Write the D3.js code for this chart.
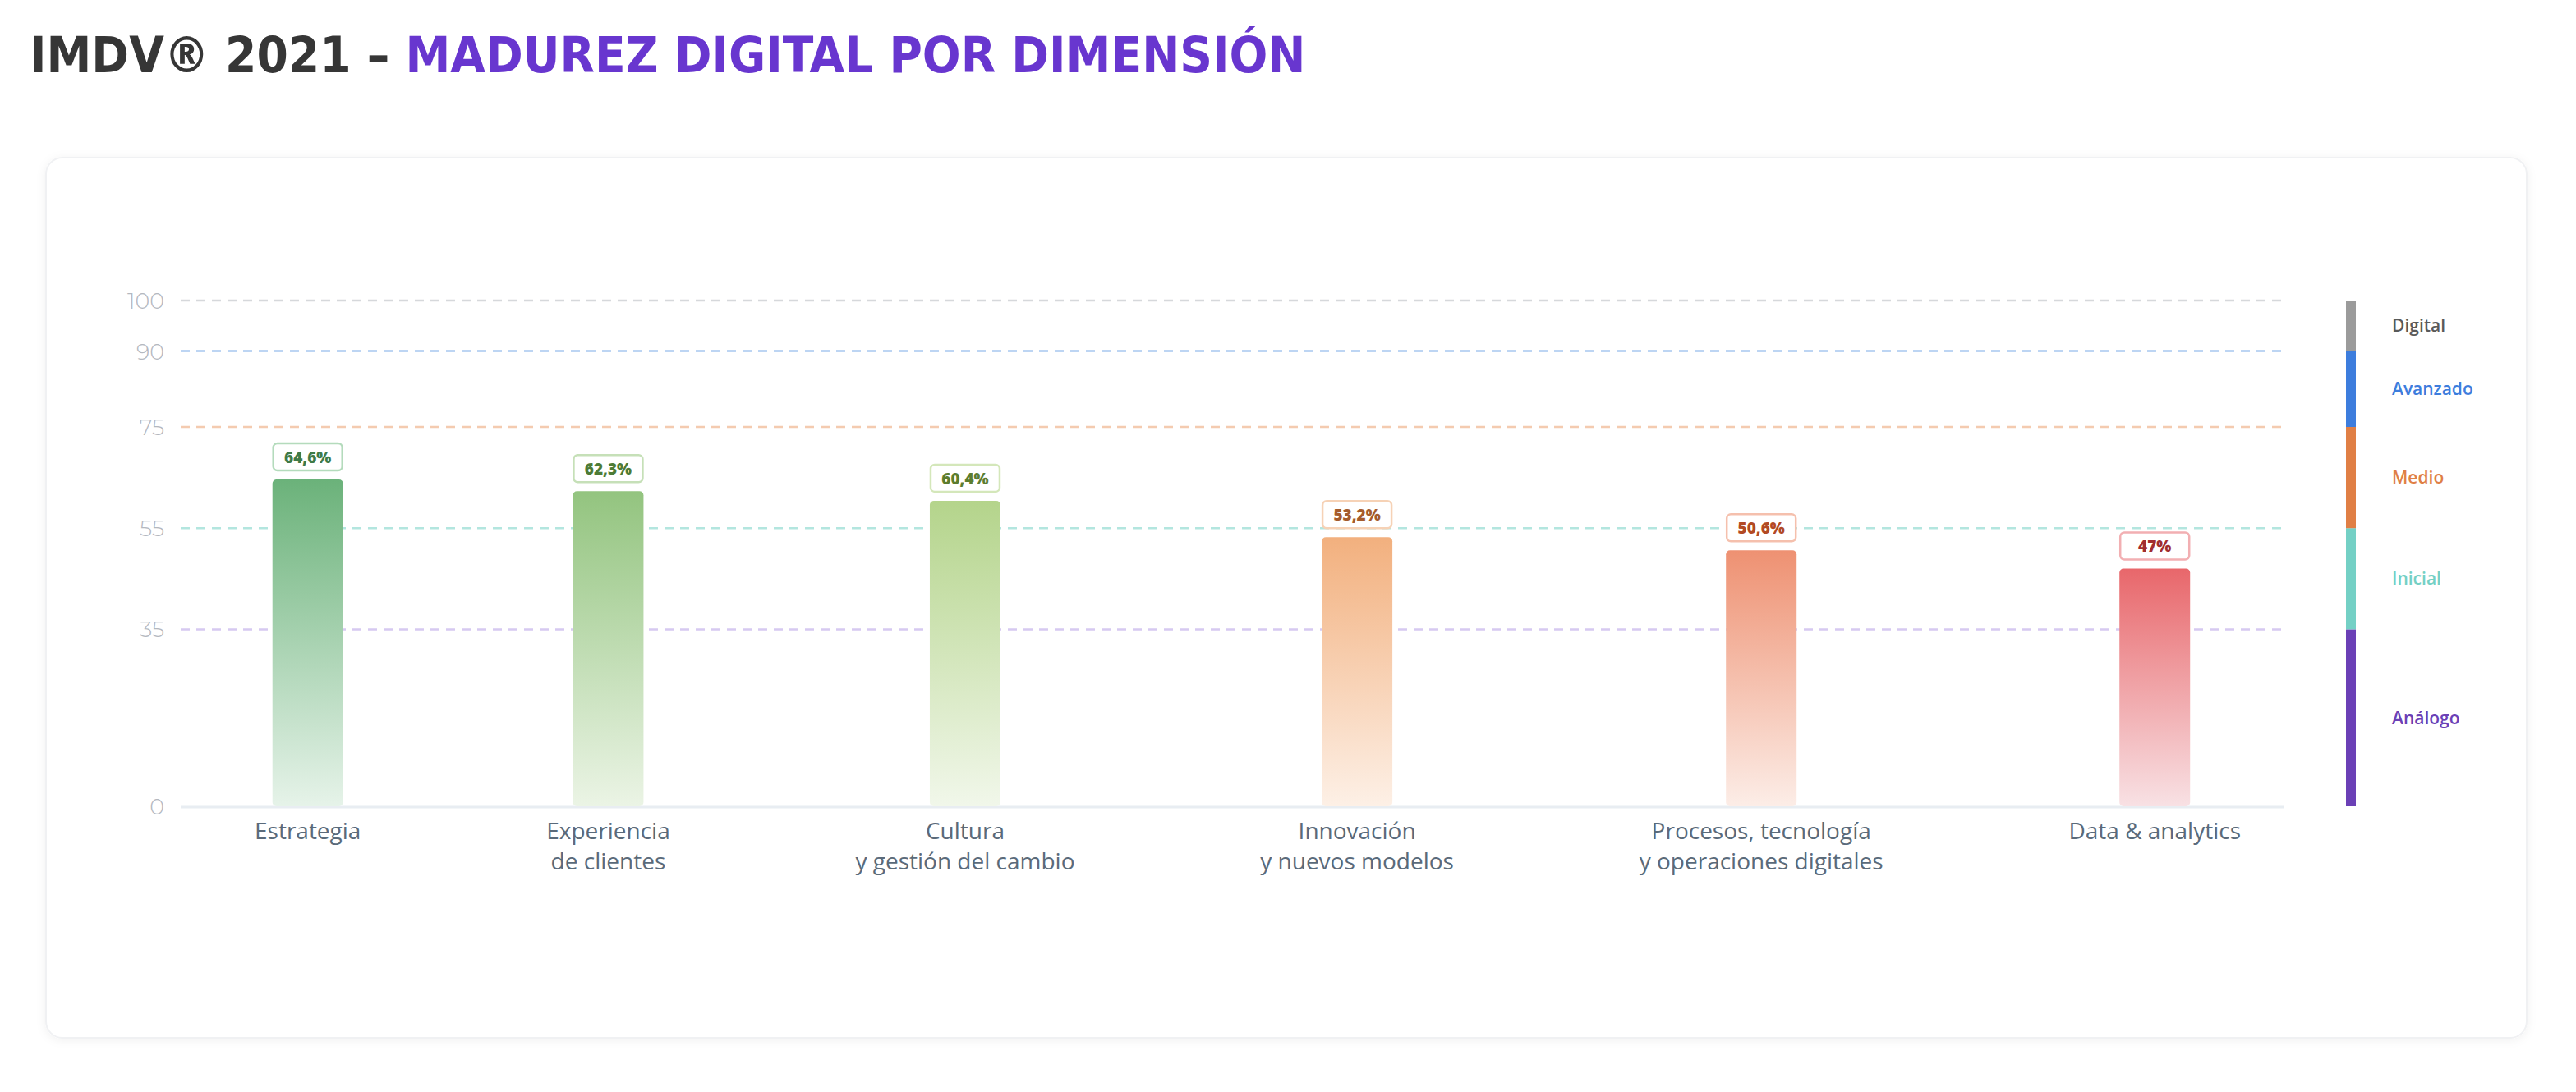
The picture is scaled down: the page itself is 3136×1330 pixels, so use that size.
<!DOCTYPE html>
<html><head><meta charset="utf-8">
<script src="https://cdn.jsdelivr.net/npm/d3@7"></script>
<style>html,body{margin:0;padding:0;background:#fff;}svg{display:block;}</style>
</head><body>
<svg id="chart" width="3136" height="1330"></svg>
<script>
// ---- data ----
const categories = ["Estrategia", "Experiencia de clientes", "Cultura y gestión del cambio", "Innovación y nuevos modelos", "Procesos, tecnología y operaciones digitales", "Data & analytics"];
const categoryLines = [["Estrategia"], ["Experiencia", "de clientes"], ["Cultura", "y gestión del cambio"], ["Innovación", "y nuevos modelos"], ["Procesos, tecnología", "y operaciones digitales"], ["Data & analytics"]];
const values = [64.6, 62.3, 60.4, 53.2, 50.6, 47];
const valueLabels = ["64,6%", "62,3%", "60,4%", "53,2%", "50,6%", "47%"];
const yTicks = [0, 35, 55, 75, 90, 100];
const levelNames = ["Análogo", "Inicial", "Medio", "Avanzado", "Digital"];
const levelBounds = [0, 35, 55, 75, 90, 100];

// ---- styles ----
const barTop = ["#6bb27a", "#93c47f", "#b4d48b", "#f2b07e", "#ee9172", "#e8676b"];
const barBottom = ["#e6f3e9", "#ebf4e5", "#f1f7ea", "#fdf0e6", "#fcede7", "#f8e1e4"];
const labelText = ["#3e7a48", "#4d7b36", "#5c7d30", "#a55c2c", "#b24a24", "#a12d2f"];
const labelStroke = ["#b4dbbc", "#c6e0b8", "#d4e7ba", "#f6d2b6", "#f5c0ad", "#f2afb2"];
const levelColors = ["#6b40b6", "#74d0c5", "#e07f45", "#3d7ddd", "#9b9b9b"];
const levelTextColors = ["#6b40b6", "#74d0c5", "#e07f45", "#3d7ddd", "#5a5a5a"];
const gridColors = {0: "#e8edf2", 35: "#d6c9f1", 55: "#b3e6df", 75: "#f4cbb0", 90: "#a8c7f0", 100: "#d6d8db"};

const svg = d3.select("#chart");
const defs = svg.append("defs");

const shadow = defs.append("filter").attr("id", "shadow").attr("x", "-5%").attr("y", "-5%").attr("width", "110%").attr("height", "110%");
shadow.append("feDropShadow").attr("dx", 0).attr("dy", 2).attr("stdDeviation", 6).attr("flood-color", "#000").attr("flood-opacity", 0.06);

// Title (font size fitted so its natural width matches the reference)
const title = svg.append("text").attr("x", 36).attr("y", 88)
  .attr("font-family", "'DejaVu Sans Condensed', 'DejaVu Sans', sans-serif")
  .attr("font-stretch", "condensed")
  .attr("font-weight", "bold").attr("font-size", 62);
title.append("tspan").attr("fill", "#363636").text("IMDV® 2021 – ");
title.append("tspan").attr("fill", "#6836cf").text("MADUREZ DIGITAL POR DIMENSIÓN");
const tw = title.node().getComputedTextLength();
title.attr("font-size", Math.min(70, 62 * 1554 / tw));

// Card
svg.append("rect").attr("x", 56).attr("y", 192).attr("width", 3020).attr("height", 1072)
  .attr("rx", 20).attr("fill", "#fff").attr("stroke", "#f0f1f3").attr("stroke-width", 2)
  .attr("filter", "url(#shadow)");

// Scales
const plotLeft = 220, plotRight = 2780;
const y = d3.scaleLinear().domain([0, 100]).range([982, 366]);

// Grid lines
const g = svg.append("g");
g.selectAll("line.grid").data(yTicks.filter(d => d > 0)).join("line")
  .attr("x1", plotLeft).attr("x2", plotRight)
  .attr("y1", d => y(d)).attr("y2", d => y(d))
  .attr("stroke", d => gridColors[d]).attr("stroke-width", 2.5)
  .attr("stroke-dasharray", "11 8");
g.append("line").attr("x1", plotLeft).attr("x2", plotRight)
  .attr("y1", y(0) + 1).attr("y2", y(0) + 1)
  .attr("stroke", gridColors[0]).attr("stroke-width", 3);

// Y axis labels
const yAxis = d3.axisLeft(y).tickValues(yTicks).tickSize(0).tickPadding(0);
const ya = svg.append("g").attr("transform", "translate(200,0)").call(yAxis);
ya.select(".domain").remove();
ya.selectAll("text").attr("font-family", "Montserrat, 'Open Sans', sans-serif").attr("font-weight", 300)
  .attr("font-size", 27).attr("fill", "#b4b8bf").attr("dy", "0.35em");

// X layout: labels spaced evenly by their measured widths (space-between)
const labelFont = {family: "'Open Sans', 'Noto Sans', sans-serif", size: 28, weight: 500};
const measure = svg.append("text").attr("font-family", labelFont.family)
  .attr("font-size", labelFont.size).attr("font-weight", labelFont.weight);
const widths = categoryLines.map(lines => d3.max(lines, l => { measure.text(l); return measure.node().getComputedTextLength(); }));
measure.remove();
const layoutLeft = 310, layoutRight = 2728;
const gap = (layoutRight - layoutLeft - d3.sum(widths)) / (categories.length - 1);
let acc = layoutLeft;
const centers = widths.map(w => { const c = acc + w / 2; acc += w + gap; return c; });
const x = d3.scaleOrdinal().domain(categories).range(centers);
const barW = 86;

// Gradients
categories.forEach((c, i) => {
  const lg = defs.append("linearGradient").attr("id", "grad" + i).attr("x1", 0).attr("x2", 0).attr("y1", 0).attr("y2", 1);
  lg.append("stop").attr("offset", "0%").attr("stop-color", barTop[i]);
  lg.append("stop").attr("offset", "100%").attr("stop-color", barBottom[i]);
});

// Bars
svg.append("g").selectAll("rect").data(values).join("rect")
  .attr("x", (d, i) => x(categories[i]) - barW / 2)
  .attr("y", d => y(d))
  .attr("width", barW)
  .attr("height", d => y(0) - y(d))
  .attr("rx", 5)
  .attr("fill", (d, i) => `url(#grad${i})`);

// Value boxes
const vb = svg.append("g").selectAll("g").data(values).join("g")
  .attr("transform", (d, i) => `translate(${x(categories[i])},${y(d) - 10})`);
vb.append("rect").attr("x", -barW / 2 + 1).attr("y", -34).attr("width", barW - 2).attr("height", 33)
  .attr("rx", 5).attr("fill", "#fff").attr("stroke", (d, i) => labelStroke[i]).attr("stroke-width", 2.5);
vb.append("text").attr("y", -17).attr("dy", "0.35em").attr("text-anchor", "middle")
  .attr("font-family", "'Open Sans', sans-serif").attr("font-weight", 800).attr("font-size", 19)
  .attr("fill", (d, i) => labelText[i]).text((d, i) => valueLabels[i]);

// X labels
const xl = svg.append("g").selectAll("text").data(categoryLines).join("text")
  .attr("text-anchor", "middle")
  .attr("font-family", labelFont.family).attr("font-size", labelFont.size).attr("font-weight", labelFont.weight)
  .attr("fill", "#5a6a7a")
  .attr("transform", (d, i) => `translate(${x(categories[i])},1022)`);
xl.selectAll("tspan").data(d => d).join("tspan")
  .attr("x", 0).attr("y", (d, j) => j * 37).text(d => d);

// Legend
const legX = 2856, legW = 12;
const leg = svg.append("g");
leg.selectAll("rect").data(levelNames).join("rect")
  .attr("x", legX).attr("width", legW)
  .attr("y", (d, i) => y(levelBounds[i + 1]))
  .attr("height", (d, i) => y(levelBounds[i]) - y(levelBounds[i + 1]))
  .attr("fill", (d, i) => levelColors[i]);
leg.selectAll("text").data(levelNames).join("text")
  .attr("x", 2912)
  .attr("y", (d, i) => (y(levelBounds[i]) + y(levelBounds[i + 1])) / 2)
  .attr("dy", "0.35em")
  .attr("font-family", "'Open Sans', sans-serif").attr("font-weight", 600).attr("font-size", 21)
  .attr("fill", (d, i) => levelTextColors[i]).text(d => d);
</script>
</body></html>
